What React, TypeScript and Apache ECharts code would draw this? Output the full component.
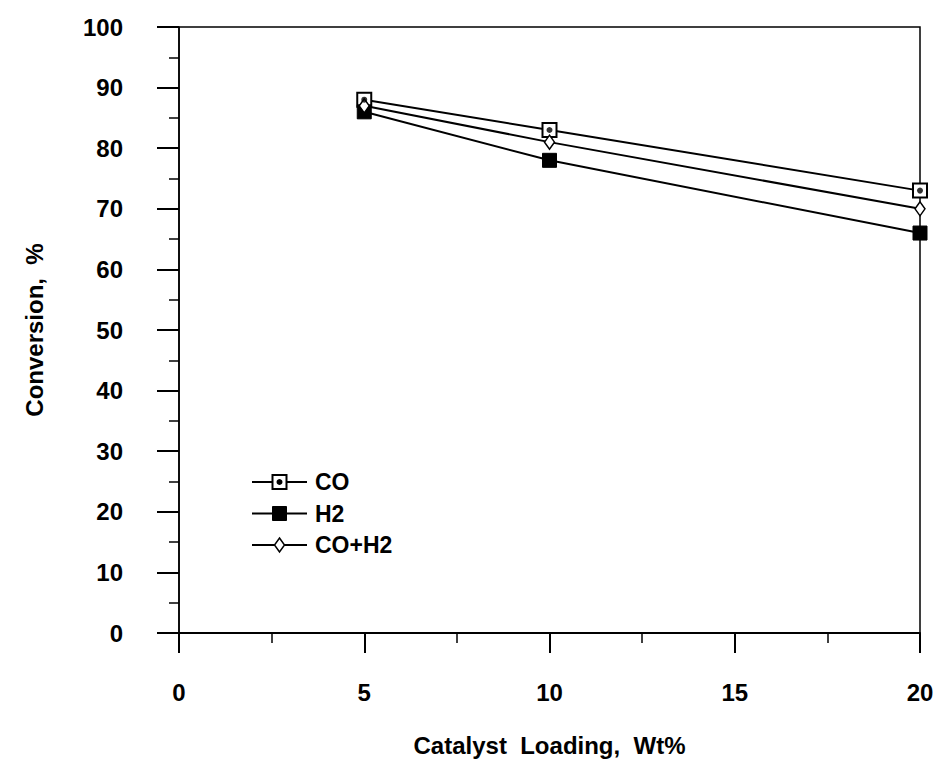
import React, { useEffect, useRef } from "react";
import * as echarts from "echarts";

// Catalyst loading (wt%) and conversion (%) for each gas
const loadings = [5, 10, 20];
const coConversion = [88, 83, 73];
const h2Conversion = [86, 78, 66];
const synConversion = [87, 81, 70];

const seriesNames = ["CO", "H2", "CO+H2"];
const xTitle = "Catalyst  Loading,  Wt%";
const yTitle = "Conversion,  %";

const FONT = "'Liberation Sans', Arial, sans-serif";

const toPoints = (vals: number[]) => loadings.map((x, i) => [x, vals[i]]);

// Marker drawn for one legend row, matching the series symbols
function legendMarker(name: string, cx: number, cy: number) {
  if (name === "CO") {
    return [
      {
        type: "rect",
        shape: { x: cx - 7, y: cy - 7, width: 14, height: 14 },
        style: { fill: "#fff", stroke: "#000", lineWidth: 2 },
        z: 101,
      },
      { type: "circle", shape: { cx, cy, r: 3 }, style: { fill: "#000" }, z: 102 },
    ];
  }
  if (name === "H2") {
    return [
      {
        type: "rect",
        shape: { x: cx - 7, y: cy - 7, width: 14, height: 14 },
        style: { fill: "#000", stroke: "#000", lineWidth: 1 },
        z: 101,
      },
    ];
  }
  return [
    {
      type: "polygon",
      shape: { points: [[cx, cy - 7], [cx + 5, cy], [cx, cy + 7], [cx - 5, cy]] },
      style: { fill: "#fff", stroke: "#000", lineWidth: 1.5 },
      z: 101,
    },
  ];
}

export default function App() {
  const ref = useRef<HTMLDivElement>(null);

  useEffect(() => {
    if (!ref.current) return;
    document.body.style.margin = "0";
    document.body.style.overflow = "hidden";
    const chart = echarts.init(ref.current, undefined, { renderer: "svg" });

    const legendX0 = 252;
    const legendX1 = 307;
    const legendY0 = 482;
    const legendStep = 31.5;

    const legendGraphics: any[] = [];
    seriesNames.forEach((name, i) => {
      const cy = legendY0 + i * legendStep;
      const cx = (legendX0 + legendX1) / 2;
      legendGraphics.push({
        type: "line",
        shape: { x1: legendX0, y1: cy, x2: legendX1, y2: cy },
        style: { stroke: "#000", lineWidth: 2 },
        z: 100,
      });
      legendGraphics.push(...legendMarker(name, cx, cy));
      legendGraphics.push({
        type: "text",
        x: 315,
        y: cy,
        style: {
          text: name,
          fill: "#000",
          font: `bold 23px ${FONT}`,
          verticalAlign: "middle",
          align: "left",
        },
        z: 100,
      });
    });

    const option = {
      animation: false,
      backgroundColor: "#ffffff",
      textStyle: { fontFamily: FONT, color: "#000" },
      grid: {
        left: 179,
        right: 19,
        top: 27,
        bottom: 134,
        show: true,
        borderColor: "#000",
        borderWidth: 1.5,
        backgroundColor: "transparent",
      },
      xAxis: {
        type: "value",
        min: 0,
        max: 20,
        interval: 5,
        axisLine: { lineStyle: { color: "#000", width: 2 } },
        axisTick: { inside: false, length: 20, lineStyle: { color: "#000", width: 2 } },
        minorTick: { show: true, splitNumber: 2, length: 10, lineStyle: { color: "#000", width: 1.5 } },
        splitLine: { show: false },
        axisLabel: {
          margin: 47,
          fontFamily: FONT,
          fontSize: 24,
          fontWeight: "bold",
          color: "#000",
        },
        name: xTitle,
        nameLocation: "middle",
        nameGap: 100,
        nameTextStyle: { fontFamily: FONT, fontSize: 24, fontWeight: "bold", color: "#000" },
      },
      yAxis: {
        type: "value",
        min: 0,
        max: 100,
        interval: 10,
        axisLine: { lineStyle: { color: "#000", width: 1.5 } },
        axisTick: { inside: false, length: 22, lineStyle: { color: "#000", width: 2 } },
        minorTick: { show: true, splitNumber: 2, length: 10, lineStyle: { color: "#000", width: 1.5 } },
        splitLine: { show: false },
        axisLabel: {
          margin: 56,
          fontFamily: FONT,
          fontSize: 24,
          fontWeight: "bold",
          color: "#000",
        },
        name: yTitle,
        nameLocation: "middle",
        nameGap: 133,
        nameTextStyle: { fontFamily: FONT, fontSize: 24, fontWeight: "bold", color: "#000" },
      },
      series: [
        {
          name: "CO",
          type: "line",
          data: toPoints(coConversion),
          symbol: "rect",
          symbolSize: 14,
          lineStyle: { color: "#000", width: 2 },
          itemStyle: { color: "#fff", borderColor: "#000", borderWidth: 2 },
          z: 3,
        },
        {
          name: "H2",
          type: "line",
          data: toPoints(h2Conversion),
          symbol: "rect",
          symbolSize: 14,
          lineStyle: { color: "#000", width: 2 },
          itemStyle: { color: "#000", borderColor: "#000", borderWidth: 1 },
          z: 3,
        },
        {
          name: "CO+H2",
          type: "line",
          data: toPoints(synConversion),
          symbol: "diamond",
          symbolSize: [10, 14],
          lineStyle: { color: "#000", width: 2 },
          itemStyle: { color: "#fff", borderColor: "#000", borderWidth: 1.5 },
          z: 3,
        },
        {
          // centre dots of the CO markers
          name: "CO dot",
          type: "scatter",
          data: toPoints(coConversion),
          symbol: "circle",
          symbolSize: 6,
          itemStyle: { color: "#000" },
          z: 4,
        },
      ],
      graphic: legendGraphics,
    };

    chart.setOption(option as any);
    return () => chart.dispose();
  }, []);

  return <div ref={ref} style={{ width: 939, height: 767 }} />;
}
